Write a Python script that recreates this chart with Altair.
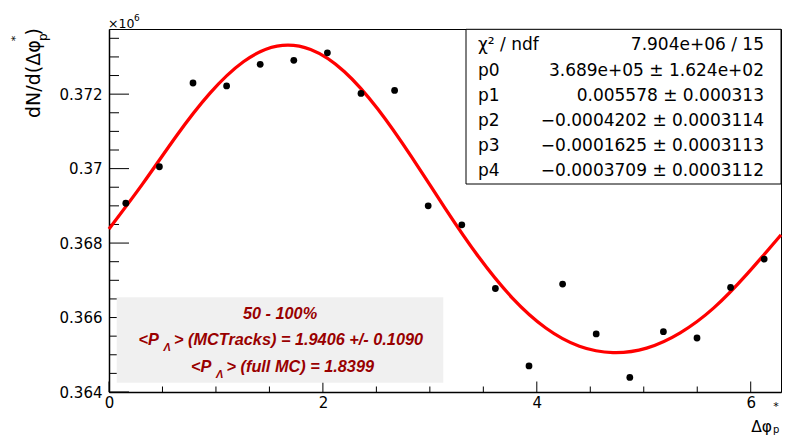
import altair as alt
import pandas as pd

# ---------------- data ----------------
phi_bins = [0.1571, 0.4712, 0.7854, 1.0996, 1.4137, 1.7279, 2.0420, 2.3562, 2.6704, 2.9845,
            3.2987, 3.6128, 3.9270, 4.2412, 4.5553, 4.8695, 5.1836, 5.4978, 5.8119, 6.1261]
counts = [0.36907, 0.37005, 0.37230, 0.37222, 0.37280, 0.37291, 0.37311, 0.37202, 0.37210, 0.36900,
          0.36849, 0.36678, 0.36470, 0.36690, 0.36556, 0.36439, 0.36562, 0.36545, 0.36681, 0.36757]

fit_phi = [0.0, 0.3142, 0.6283, 0.9425, 1.2566, 1.5708, 1.8850, 2.1991, 2.5133, 2.8274, 3.1416,
           3.4558, 3.7699, 4.0841, 4.3982, 4.7124, 5.0265, 5.3407, 5.6549, 5.9690, 6.2832]
fit_vals = [0.36838, 0.36959, 0.37087, 0.37202, 0.37287, 0.37329, 0.37320, 0.37261, 0.37160, 0.37032, 0.36894,
            0.36763, 0.36653, 0.36572, 0.36523, 0.36506, 0.36518, 0.36559, 0.36626, 0.36718, 0.36822]

x_major = [0, 2, 4, 6]
x_minor = [0.5, 1, 1.5, 2.5, 3, 3.5, 4.5, 5, 5.5]
y_major = [0.364, 0.366, 0.368, 0.370, 0.372]
y_minor = [0.3645, 0.365, 0.3655, 0.3665, 0.367, 0.3675, 0.3685, 0.369, 0.3695,
           0.3705, 0.371, 0.3715, 0.3725, 0.373, 0.3735]

stat_names = ["χ² / ndf", "p0", "p1", "p2", "p3", "p4"]
stat_values = ["7.904e+06 / 15", "3.689e+05 ± 1.624e+02", "0.005578 ± 0.000313",
               "−0.0004202 ± 0.0003114", "−0.0001625 ± 0.0003113", "−0.0003709 ± 0.0003112"]

info_line1 = "50 - 100%"
info_line2 = "> (MCTracks) = 1.9406 +/- 0.1090"
info_line3 = "> (full MC) = 1.8399"

# ---------------- layout ----------------
W, H = 672, 363
PL, PT = 109, 29
RED_TXT = "#990000"

xs = alt.Scale(domain=[0, 6.2832], nice=False, zero=False)
ys = alt.Scale(domain=[0.364, 0.37375], nice=False, zero=False)
xaxis = alt.Axis(values=x_major, format="d", ticks=False, grid=False, labelFlush=False,
                 labelOverlap=False, labelPadding=3, labelFont="DejaVu Sans", labelFontSize=15,
                 labelColor="black", domainColor="black", domainWidth=1.5, title=None)
yaxis = alt.Axis(values=y_major, format=".3~f", ticks=False, grid=False, labelFlush=False,
                 labelOverlap=False, labelPadding=7, labelFont="DejaVu Sans", labelFontSize=15,
                 labelColor="black", domainColor="black", domainWidth=1.5, title=None)


def X(field):
    return alt.X(field, type="quantitative", scale=xs, axis=xaxis)


def Y(field):
    return alt.Y(field, type="quantitative", scale=ys, axis=yaxis)


one = pd.DataFrame({"a": [0]})


def txt(s, px, py, size, font="DejaVu Sans", align="left", angle=0, color="black",
        style="normal", weight="normal"):
    return alt.Chart(one).mark_text(
        text=s, align=align, baseline="alphabetic", font=font, fontSize=size, angle=angle,
        color=color, fontStyle=style, fontWeight=weight
    ).encode(x=alt.value(px - PL), y=alt.value(py - PT))


def box(x1, y1, x2, y2, fill, stroke=None):
    kw = dict(fill=fill)
    if stroke:
        kw.update(stroke=stroke, strokeWidth=1)
    return alt.Chart(one).mark_rect(**kw).encode(
        x=alt.value(x1 - PL), x2=alt.value(x2 - PL), y=alt.value(y1 - PT), y2=alt.value(y2 - PT))


layers = []
# inward ticks
layers.append(alt.Chart(pd.DataFrame({"v": y_major})).mark_rule(color="black", strokeWidth=1)
              .encode(y=Y("v"), x=alt.value(0), x2=alt.value(20)))
layers.append(alt.Chart(pd.DataFrame({"v": y_minor})).mark_rule(color="black", strokeWidth=1)
              .encode(y=Y("v"), x=alt.value(0), x2=alt.value(10)))
layers.append(alt.Chart(pd.DataFrame({"v": x_major})).mark_rule(color="black", strokeWidth=1)
              .encode(x=X("v"), y=alt.value(H), y2=alt.value(H - 10.5)))
layers.append(alt.Chart(pd.DataFrame({"v": x_minor})).mark_rule(color="black", strokeWidth=1)
              .encode(x=X("v"), y=alt.value(H), y2=alt.value(H - 5.5)))

# grey info box
layers.append(box(116.7, 297.3, 443.3, 382.7, "#f0f0f0"))

# fit curve and data points
fit_df = pd.DataFrame({"phi": fit_phi, "val": fit_vals})
layers.append(alt.Chart(fit_df).mark_line(color="#ff0000", strokeWidth=3.3, interpolate="natural")
              .encode(x=X("phi"), y=Y("val")))
pts_df = pd.DataFrame({"phi": phi_bins, "val": counts})
layers.append(alt.Chart(pts_df).mark_circle(color="black", opacity=1, size=46)
              .encode(x=X("phi"), y=Y("val")))

# stats box
layers.append(box(466, 29.3, 781, 184, "white", "black"))
stat_baselines = [50.2, 75.5, 100.7, 125.9, 151.0, 176.2]
for name, val, b in zip(stat_names, stat_values, stat_baselines):
    layers.append(txt(name, 478, b, 17))
    layers.append(txt(val, 764, b, 17, align="right"))

# red info text
rf = "Liberation Sans"
layers.append(txt(info_line1, 280, 319.3, 16.3, font=rf, align="center", color=RED_TXT,
                  style="italic", weight="bold"))
layers.append(txt("<P", 138.5, 345.2, 16.3, font=rf, color=RED_TXT, style="italic", weight="bold"))
layers.append(txt("Λ", 163.5, 351.2, 11, font=rf, color=RED_TXT, style="italic", weight="bold"))
layers.append(txt(info_line2, 174, 345.2, 16.3, font=rf, color=RED_TXT, style="italic", weight="bold"))
layers.append(txt("<P", 191, 372.3, 16.3, font=rf, color=RED_TXT, style="italic", weight="bold"))
layers.append(txt("Λ", 216, 378.3, 11, font=rf, color=RED_TXT, style="italic", weight="bold"))
layers.append(txt(info_line3, 226.5, 372.3, 16.3, font=rf, color=RED_TXT, style="italic", weight="bold"))

# exponent label
layers.append(txt("×10", 108, 27.7, 12.5))
layers.append(txt("6", 134, 20.5, 9))

# x title
layers.append(txt("Δφ", 772, 431.5, 15.5, align="right"))
layers.append(txt("p", 773, 432.5, 10))
layers.append(txt("*", 776, 410, 11, align="center"))

# y title (rotated)
layers.append(txt("dN/d(Δφ", 40, 118, 19, angle=270))
layers.append(txt("p", 47, 41, 12, angle=270))
layers.append(txt(")", 40, 35.5, 19, angle=270))
layers.append(txt("*", 19, 38.5, 11, angle=270, align="center"))

chart = alt.layer(*layers).properties(
    width=W, height=H,
    autosize=alt.AutoSizeParams(type="none"),
    padding={"left": PL, "top": PT, "right": 785 - PL - W, "bottom": 436 - PT - H},
    background="white",
).configure_view(stroke="black", strokeWidth=1)

chart.save("out.html", embed_options={"renderer": "svg", "actions": False})
